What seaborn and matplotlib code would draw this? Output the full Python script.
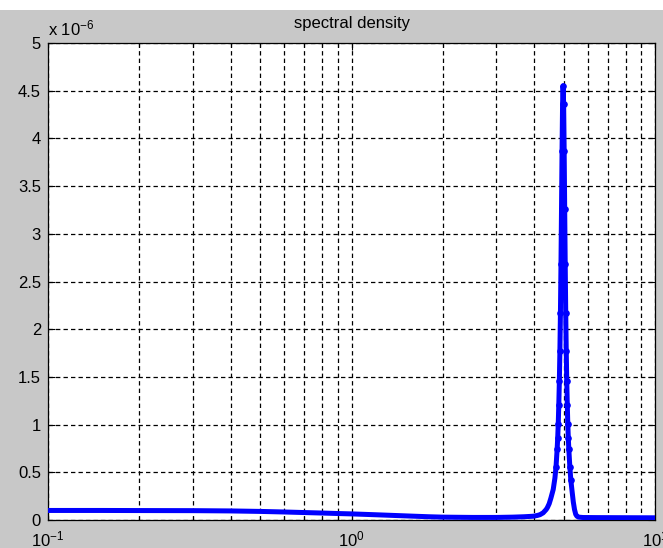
import numpy as np
import pandas as pd
import seaborn as sns
import matplotlib
matplotlib.use("Agg")
import matplotlib.pyplot as plt
from matplotlib.patches import Rectangle
from matplotlib.ticker import LogLocator, FixedLocator, FixedFormatter

# Frequency axis (log) and spectral density in units of 1e-6
freq = [0.10, 0.15, 0.20, 0.30, 0.40, 0.50, 0.60, 0.70, 0.80, 0.90,
        1.00, 1.20, 1.40, 1.60, 1.80, 2.00, 2.50, 3.00, 3.40, 3.70,
        3.90, 3.98, 4.10, 4.18, 4.28, 4.38, 4.42, 4.48, 4.54, 4.62,
        4.68, 4.72, 4.76, 4.78, 4.80, 4.82, 4.84, 4.86, 4.88, 4.90,
        4.92, 4.94, 4.96, 4.98, 5.00, 5.02, 5.04, 5.06, 5.08, 5.10,
        5.12, 5.14, 5.16, 5.18, 5.20, 5.24, 5.28, 5.34, 5.38, 5.43,
        5.48, 5.53, 5.60, 5.80, 6.50, 8.00, 10.0]
density = [0.100, 0.100, 0.099, 0.098, 0.095, 0.090, 0.084, 0.078, 0.073, 0.068,
           0.064, 0.055, 0.047, 0.040, 0.034, 0.030, 0.027, 0.027, 0.030, 0.034,
           0.038, 0.040, 0.048, 0.056, 0.075, 0.110, 0.130, 0.170, 0.230, 0.320,
           0.440, 0.560, 0.745, 0.860, 1.010, 1.210, 1.455, 1.770, 2.170, 2.680,
           3.260, 3.870, 4.360, 4.550, 4.360, 3.870, 3.260, 2.680, 2.170, 1.770,
           1.455, 1.210, 1.010, 0.860, 0.745, 0.560, 0.420, 0.280, 0.190, 0.110,
           0.060, 0.040, 0.030, 0.026, 0.025, 0.024, 0.023]

y_ticks = [0, 0.5, 1, 1.5, 2, 2.5, 3, 3.5, 4, 4.5, 5]
y_tick_labels = ["0", "0.5", "1", "1.5", "2", "2.5", "3", "3.5", "4", "4.5", "5"]

plt.rcParams["font.family"] = ["Liberation Sans", "DejaVu Sans"]
plt.rcParams["mathtext.fontset"] = "custom"
plt.rcParams["mathtext.rm"] = "Liberation Sans"
plt.rcParams["mathtext.it"] = "Liberation Sans:italic"
plt.rcParams["mathtext.bf"] = "Liberation Sans:bold"

W, H = 663, 548
fig = plt.figure(figsize=(W / 100, H / 100), dpi=100, facecolor="#c8c8c8")
fig.patches.append(Rectangle((0, 1 - 10 / H), 1, 10 / H, transform=fig.transFigure,
                             facecolor="white", edgecolor="none", zorder=0))
ax = fig.add_axes([48 / W, 1 - 520 / H, (655 - 48) / W, (520 - 43) / H])
ax.set_facecolor("white")

# beaded markers only along the resonance peak
peak_idx = [i for i, f in enumerate(freq) if 4.7 <= f <= 5.3]

df = pd.DataFrame({"f": freq, "S": density})
sns.lineplot(data=df, x="f", y="S", ax=ax, color="#0000ff", linewidth=3.6,
             marker="o", markersize=4.8, markeredgewidth=0, markevery=peak_idx,
             estimator=None, sort=False, zorder=3)

ax.set_xscale("log")
ax.set_xlim(0.1, 10)
ax.set_ylim(0, 5)
ax.xaxis.set_major_locator(LogLocator(base=10))
ax.xaxis.set_minor_locator(LogLocator(base=10, subs=np.arange(2, 10)))
ax.yaxis.set_major_locator(FixedLocator(y_ticks))
ax.yaxis.set_major_formatter(FixedFormatter(y_tick_labels))

grid_kw = dict(color="black", linewidth=0.9, dashes=(3.5, 2.5))
ax.grid(True, which="major", axis="both", **grid_kw)
ax.grid(True, which="minor", axis="x", **grid_kw)

ax.tick_params(which="both", direction="in", top=True, right=True,
               labelsize=12, colors="black", width=0.8)
ax.tick_params(which="major", length=5)
ax.tick_params(which="minor", length=3)
ax.tick_params(axis="x", pad=7)
ax.tick_params(axis="y", pad=5)
for s in ax.spines.values():
    s.set_color("black")
    s.set_linewidth(0.9)

ax.set_xlabel("")
ax.set_ylabel("")
ax.set_title("spectral density", fontsize=12, pad=11, color="black")
ax.text(0.0, 1 + 8 / 477, r"x $10^{-6}$", transform=ax.transAxes,
        ha="left", va="baseline", fontsize=12)

fig.savefig("out.png", dpi=100, facecolor=fig.get_facecolor())
